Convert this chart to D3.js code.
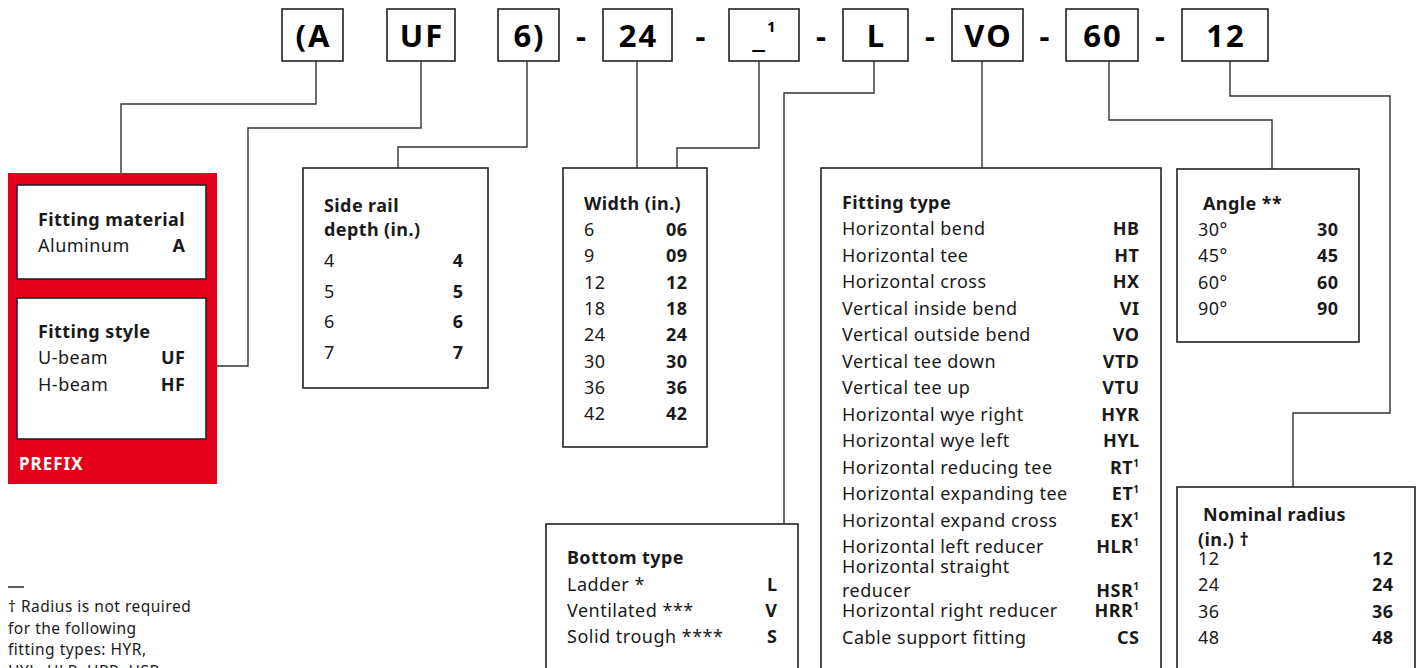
<!DOCTYPE html>
<html>
<head>
<meta charset="utf-8">
<script src="https://cdn.jsdelivr.net/npm/d3@7/dist/d3.min.js"></script>
<style>
  body { margin: 0; background: #fff; }
  svg { display: block; font-family: "Noto Sans", "DejaVu Sans", sans-serif; }
</style>
</head>
<body>
<script>
// catalog number parts
const codeParts = ["(A", "UF", "6)", "24", "_", "L", "VO", "60", "12"];
const codeSup = ["", "", "", "", "1", "", "", "", ""];
const codeDash = [false, false, false, true, true, true, true, true, true];

// option tables
const materialLabels = ["Aluminum"];
const materialCodes = ["A"];
const styleLabels = ["U-beam", "H-beam"];
const styleCodes = ["UF", "HF"];
const depthLabels = ["4", "5", "6", "7"];
const depthCodes = ["4", "5", "6", "7"];
const widthLabels = ["6", "9", "12", "18", "24", "30", "36", "42"];
const widthCodes = ["06", "09", "12", "18", "24", "30", "36", "42"];
const fittingLabels = ["Horizontal bend", "Horizontal tee", "Horizontal cross", "Vertical inside bend",
  "Vertical outside bend", "Vertical tee down", "Vertical tee up", "Horizontal wye right",
  "Horizontal wye left", "Horizontal reducing tee", "Horizontal expanding tee", "Horizontal expand cross",
  "Horizontal left reducer", "Horizontal straight\nreducer", "Horizontal right reducer", "Cable support fitting"];
const fittingCodes = ["HB", "HT", "HX", "VI", "VO", "VTD", "VTU", "HYR", "HYL", "RT", "ET", "EX", "HLR", "HSR", "HRR", "CS"];
const fittingSup = ["", "", "", "", "", "", "", "", "", "1", "1", "1", "1", "1", "1", ""];
const angleLabels = ["30°", "45°", "60°", "90°"];
const angleCodes = ["30", "45", "60", "90"];
const radiusLabels = ["12", "24", "36", "48"];
const radiusCodes = ["12", "24", "36", "48"];
const bottomLabels = ["Ladder *", "Ventilated ***", "Solid trough ****"];
const bottomCodes = ["L", "V", "S"];
const footnoteLines = ["† Radius is not required", "for the following", "fitting types: HYR,", "HYL, HLR, HRR, HSR"];

const RED = "#e2001a";
const INK = "#1a1a1a";

const svg = d3.select("body").append("svg")
  .attr("width", 1423)
  .attr("height", 668);

// top row boxes: left/right edges
const codeBoxes = [[282, 343], [387, 455], [498, 559], [603, 672], [729, 799], [843, 908], [952, 1023], [1066, 1138], [1182, 1268]];

// connector paths from code boxes to panels
const connectors = [
  [[316, 61], [316, 104], [121, 104], [121, 185]],
  [[421, 61], [421, 128], [248, 128], [248, 366], [206, 366]],
  [[527, 61], [527, 147], [398, 147], [398, 168]],
  [[637, 61], [637, 168]],
  [[759, 61], [759, 148], [677, 148], [677, 168]],
  [[874, 61], [874, 93], [784, 93], [784, 524]],
  [[982, 61], [982, 168]],
  [[1109, 61], [1109, 120], [1272, 120], [1272, 169]],
  [[1230, 61], [1230, 96], [1390, 96], [1390, 413], [1293, 413], [1293, 487]]
];

const line = d3.line();
svg.append("g").selectAll("path")
  .data(connectors)
  .enter()
  .append("path")
    .attr("d", line)
    .attr("fill", "none")
    .attr("stroke", "#333")
    .attr("stroke-width", 1.4);

// red prefix block
svg.append("rect")
  .attr("x", 8).attr("y", 173)
  .attr("width", 209).attr("height", 311)
  .attr("fill", RED);
svg.append("text")
  .attr("x", 19).attr("y", 470)
  .text("PREFIX")
  .style("font-size", "17px")
  .style("font-weight", "bold")
  .style("letter-spacing", "1px")
  .attr("fill", "#fff");

// code boxes
let boxG = svg.append("g");
boxG.selectAll("rect")
  .data(codeBoxes)
  .enter()
  .append("rect")
    .attr("x", d => d[0])
    .attr("y", 9)
    .attr("width", d => d[1] - d[0])
    .attr("height", 52)
    .attr("fill", "#fff")
    .attr("stroke", "#222")
    .attr("stroke-width", 1.6);

let codeText = boxG.selectAll(".code")
  .data(codeParts)
  .enter()
  .append("text")
    .attr("class", "code")
    .attr("x", (d, i) => (codeBoxes[i][0] + codeBoxes[i][1]) / 2 + 1)
    .attr("y", 47)
    .attr("text-anchor", "middle")
    .style("font-size", "31px")
    .style("font-weight", "bold")
    .style("letter-spacing", "2px")
    .attr("fill", "#000");
codeText.append("tspan").text(d => d);
codeText.append("tspan")
  .text((d, i) => codeSup[i])
  .attr("dy", -15)
  .style("font-size", "15px");

// dashes between boxes
boxG.selectAll(".dash")
  .data(codeParts.map((d, i) => i).filter(i => codeDash[i]))
  .enter()
  .append("text")
    .attr("class", "dash")
    .attr("x", i => (codeBoxes[i - 1][1] + codeBoxes[i][0]) / 2)
    .attr("y", 47)
    .attr("text-anchor", "middle")
    .style("font-size", "31px")
    .style("font-weight", "bold")
    .attr("fill", "#000")
    .text("-");

// generic option panel
function drawPanel(p) {
  let g = svg.append("g");
  g.append("rect")
    .attr("x", p.box[0]).attr("y", p.box[1])
    .attr("width", p.box[2] - p.box[0]).attr("height", p.box[3] - p.box[1])
    .attr("fill", "#fff")
    .attr("stroke", "#222")
    .attr("stroke-width", 1.6);

  p.titles.forEach(t => {
    g.append("text")
      .attr("x", t[1]).attr("y", t[2])
      .text(t[0])
      .style("font-size", "18px")
      .style("font-weight", "bold")
      .style("letter-spacing", "0.4px")
      .attr("fill", INK);
  });

  let y = d3.scaleLinear()
    .domain([0, 1])
    .range([p.firstRow, p.firstRow + p.step]);
  let rowY = p.rowY || (i => y(i));

  p.labels.forEach((lab, i) => {
    let parts = lab.split("\n");
    let t = g.append("text")
      .attr("x", p.labelX)
      .attr("y", rowY(i) - (parts.length - 1) * 24)
      .style("font-size", "18px")
      .style("letter-spacing", "0.5px")
      .attr("fill", INK);
    parts.forEach((s, k) => {
      t.append("tspan")
        .attr("x", p.labelX)
        .attr("dy", k === 0 ? 0 : 24)
        .text(s);
    });

    let c = g.append("text")
      .attr("x", p.codeX + 0.5)
      .attr("y", rowY(i))
      .attr("text-anchor", "end")
      .style("font-size", "18px")
      .style("font-weight", "bold")
      .style("letter-spacing", "0.5px")
      .attr("fill", INK);
    c.append("tspan").text(p.codes[i]);
    if (p.sup && p.sup[i]) {
      c.append("tspan")
        .text(p.sup[i])
        .attr("dy", -7)
        .style("font-size", "10px");
    }
  });
}

drawPanel({ box: [17, 185, 206, 279], titles: [["Fitting material", 38, 226]],
  labels: materialLabels, codes: materialCodes, labelX: 38, codeX: 185, firstRow: 252, step: 26 });
drawPanel({ box: [17, 298, 206, 439], titles: [["Fitting style", 38, 338]],
  labels: styleLabels, codes: styleCodes, labelX: 38, codeX: 185, firstRow: 364, step: 26.5 });
drawPanel({ box: [303, 168, 488, 388], titles: [["Side rail", 324, 212], ["depth (in.)", 324, 236]],
  labels: depthLabels, codes: depthCodes, labelX: 324, codeX: 463, firstRow: 267, step: 30.7 });
drawPanel({ box: [563, 168, 707, 447], titles: [["Width (in.)", 584, 210]],
  labels: widthLabels, codes: widthCodes, labelX: 584, codeX: 687, firstRow: 236, step: 26.3 });

let fitY = d3.scaleLinear().domain([0, 1]).range([235, 261.5]);
drawPanel({ box: [821, 168, 1161, 720], titles: [["Fitting type", 842, 209]],
  labels: fittingLabels, codes: fittingCodes, sup: fittingSup, labelX: 842, codeX: 1139,
  firstRow: 235, step: 26.5,
  rowY: i => i < 13 ? fitY(i) : (i === 13 ? fitY(i) + 17.5 : fitY(i) + 11) });

drawPanel({ box: [1177, 169, 1359, 342], titles: [["Angle **", 1203, 210]],
  labels: angleLabels, codes: angleCodes, labelX: 1198, codeX: 1338, firstRow: 236, step: 26.3 });
drawPanel({ box: [1177, 487, 1415, 720], titles: [["Nominal radius", 1203, 521], ["(in.) †", 1198, 546]],
  labels: radiusLabels, codes: radiusCodes, labelX: 1198, codeX: 1393, firstRow: 565, step: 26.3 });
drawPanel({ box: [546, 524, 798, 720], titles: [["Bottom type", 567, 564]],
  labels: bottomLabels, codes: bottomCodes, labelX: 567, codeX: 777, firstRow: 591, step: 26 });

// footnote
svg.append("line")
  .attr("x1", 8).attr("x2", 24)
  .attr("y1", 587).attr("y2", 587)
  .attr("stroke", INK)
  .attr("stroke-width", 1.4);
let fy = d3.scaleLinear().domain([0, 1]).range([612, 633.5]);
svg.append("g").selectAll("text")
  .data(footnoteLines)
  .enter()
  .append("text")
    .attr("x", 8)
    .attr("y", (d, i) => fy(i))
    .text(d => d)
    .style("font-size", "15.5px")
    .style("letter-spacing", "0.5px")
    .attr("fill", INK);
</script>
</body>
</html>
